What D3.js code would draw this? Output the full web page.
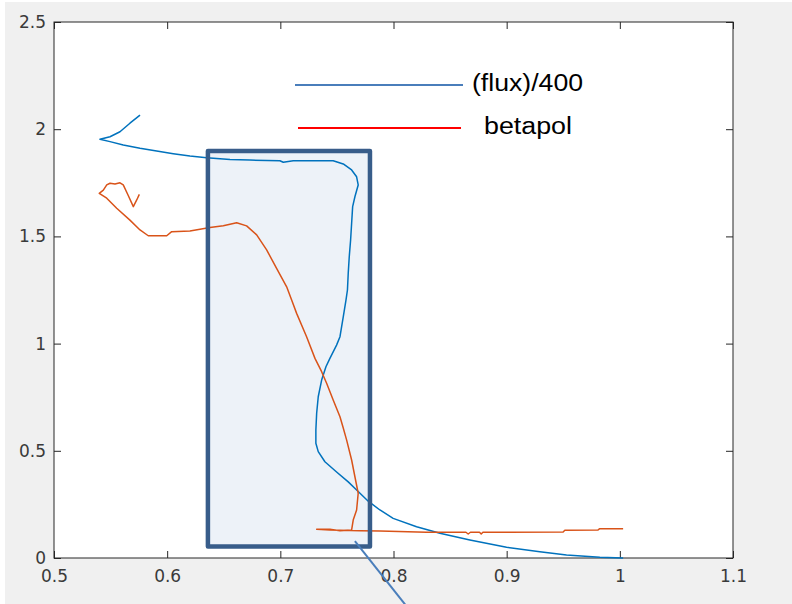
<!DOCTYPE html>
<html><head><meta charset="utf-8">
<script src="https://cdn.jsdelivr.net/npm/d3@7"></script>
<style>body{margin:0;background:#fff}svg{display:block}</style>
</head><body>
<svg id="c" width="792" height="604"></svg>
<script>
// ---- data ----
const fluxX = [0.5760,0.5671,0.5583,0.5495,0.5406,0.5495,0.5612,0.5760,0.5907,0.6054,0.6201,0.6349,0.6555,0.6731,0.6996,0.7026,0.7114,0.7467,0.7556,0.7630,0.7674,0.7688,0.7659,0.7639,0.7630,0.7621,0.7609,0.7600,0.7593,0.7580,0.7556,0.7527,0.7497,0.7438,0.7403,0.7365,0.7335,0.7321,0.7314,0.7314,0.7335,0.7394,0.7497,0.7600,0.7688,0.7777,0.7880,0.7997,0.8204,0.8410,0.8675,0.8999,0.9293,0.9529,0.9823,1.0029];
const fluxY = [2.066,2.028,1.988,1.965,1.953,1.942,1.926,1.911,1.898,1.886,1.875,1.867,1.859,1.856,1.853,1.846,1.853,1.853,1.838,1.810,1.778,1.740,1.685,1.639,1.561,1.483,1.405,1.328,1.250,1.203,1.125,1.032,0.993,0.931,0.892,0.830,0.752,0.675,0.597,0.535,0.496,0.449,0.401,0.355,0.310,0.265,0.224,0.185,0.146,0.115,0.084,0.050,0.029,0.014,0.003,0.000];
const betaX = [0.5754,0.5731,0.5701,0.5654,0.5612,0.5583,0.5539,0.5495,0.5466,0.5436,0.5400,0.5466,0.5554,0.5671,0.5760,0.5833,0.5996,0.6040,0.6201,0.6290,0.6378,0.6496,0.6614,0.6702,0.6791,0.6879,0.6967,0.7056,0.7100,0.7144,0.7232,0.7306,0.7365,0.7409,0.7467,0.7527,0.7556,0.7586,0.7630,0.7659,0.7688,0.7674,0.7644,0.7630,0.7527,0.7438,0.7321,0.7438,0.7703,0.7880,0.8292,0.8640,0.8660,0.8680,0.8760,0.8775,0.8790,0.9499,0.9514,0.9808,0.9823,1.0029];
const betaY = [1.696,1.670,1.639,1.693,1.740,1.750,1.744,1.748,1.740,1.716,1.701,1.678,1.631,1.576,1.530,1.503,1.503,1.522,1.525,1.533,1.541,1.550,1.564,1.549,1.507,1.437,1.351,1.265,1.203,1.141,1.032,0.931,0.869,0.815,0.737,0.659,0.606,0.550,0.457,0.379,0.302,0.224,0.177,0.131,0.127,0.134,0.134,0.131,0.127,0.126,0.120,0.120,0.112,0.120,0.120,0.112,0.120,0.121,0.129,0.131,0.137,0.137];
const xTicks = [0.5,0.6,0.7,0.8,0.9,1,1.1];
const xTickLabels = ["0.5","0.6","0.7","0.8","0.9","1","1.1"];
const yTicks = [0,0.5,1,1.5,2,2.5];
const yTickLabels = ["0","0.5","1","1.5","2","2.5"];
const legendLabels = ["(flux)/400","betapol"];
const boxX = [0.636,0.7792], boxY = [0.0536,1.898];
const pointerX = [0.7659,0.8115], pointerY = [0.079,-0.225];

// ---- layout ----
const svg = d3.select("#c");
const L = 54, R = 733, T = 22, B = 558;
svg.append("rect").attr("x",5).attr("y",2).attr("width",787).attr("height",602).attr("fill","#f0f0f0");
svg.append("rect").attr("x",L).attr("y",T).attr("width",R-L).attr("height",B-T).attr("fill","#fff");

const x = d3.scaleLinear().domain([0.5,1.1]).range([L,R]);
const y = d3.scaleLinear().domain([0,2.5]).range([B,T]);

// highlight box fill (under curves)
svg.append("rect")
  .attr("x",x(boxX[0])).attr("y",y(boxY[1]))
  .attr("width",x(boxX[1])-x(boxX[0])).attr("height",y(boxY[0])-y(boxY[1]))
  .attr("fill","#edf2f8");

const axisColor = "#262626";
const labelColor = "#3a3a3a";
const fontF = "'DejaVu Sans', sans-serif";
function styleAxis(g){
  g.select(".domain").remove();
  g.selectAll(".tick line").attr("stroke",axisColor).attr("stroke-width",1);
  g.selectAll(".tick text").attr("fill",labelColor).style("font-family",fontF).style("font-size","17px");
}
svg.append("g").attr("transform",`translate(0,${B})`)
  .call(d3.axisBottom(x).tickValues(xTicks).tickSizeInner(-7).tickSizeOuter(0).tickPadding(12)
    .tickFormat((d,i)=>xTickLabels[i])).call(styleAxis);
svg.append("g").attr("transform",`translate(0,${T})`)
  .call(d3.axisTop(x).tickValues(xTicks).tickSizeInner(-7).tickSizeOuter(0).tickFormat("")).call(styleAxis);
svg.append("g").attr("transform",`translate(${L},0)`)
  .call(d3.axisLeft(y).tickValues(yTicks).tickSizeInner(-7).tickSizeOuter(0).tickPadding(8)
    .tickFormat((d,i)=>yTickLabels[i])).call(styleAxis);
svg.append("g").attr("transform",`translate(${R},0)`)
  .call(d3.axisRight(y).tickValues(yTicks).tickSizeInner(-7).tickSizeOuter(0).tickFormat("")).call(styleAxis);
svg.append("rect").attr("x",L).attr("y",T).attr("width",R-L).attr("height",B-T)
  .attr("fill","none").attr("stroke",axisColor).attr("stroke-width",1);

// ---- curves ----
const line = d3.line().x(d=>x(d[0])).y(d=>y(d[1]));
svg.append("path").datum(fluxX.map((v,i)=>[v,fluxY[i]])).attr("d",line)
  .attr("fill","none").attr("stroke","#0072bd").attr("stroke-width",1.5).attr("stroke-linejoin","round");
svg.append("path").datum(betaX.map((v,i)=>[v,betaY[i]])).attr("d",line)
  .attr("fill","none").attr("stroke","#d95319").attr("stroke-width",1.5).attr("stroke-linejoin","round");

// highlight box border
svg.append("rect")
  .attr("x",x(boxX[0])).attr("y",y(boxY[1]))
  .attr("width",x(boxX[1])-x(boxX[0])).attr("height",y(boxY[0])-y(boxY[1]))
  .attr("fill","none").attr("stroke","#385d8a").attr("stroke-width",4.5).attr("stroke-linejoin","round");

// pointer line
svg.append("line").attr("x1",x(pointerX[0])).attr("y1",y(pointerY[0]))
  .attr("x2",x(pointerX[1])).attr("y2",y(pointerY[1]))
  .attr("stroke","#4a7ebb").attr("stroke-width",2);

// ---- legend (annotation) ----
const leg = [
  {x1:295,x2:463,ly:85,color:"#4a7ebb",tx:472,ty:91,tw:111},
  {x1:298,x2:461,ly:128,color:"#ff0000",tx:484,ty:134,tw:88}
];
leg.forEach((l,i)=>{
  svg.append("line").attr("x1",l.x1).attr("x2",l.x2).attr("y1",l.ly).attr("y2",l.ly)
    .attr("stroke",l.color).attr("stroke-width",2);
  svg.append("text").attr("x",l.tx).attr("y",l.ty).text(legendLabels[i])
    .attr("textLength",l.tw).attr("lengthAdjust","spacingAndGlyphs")
    .style("font-family","'Liberation Sans', Arial, sans-serif").style("font-size","23px").attr("fill","#000");
});
</script>
</body></html>
